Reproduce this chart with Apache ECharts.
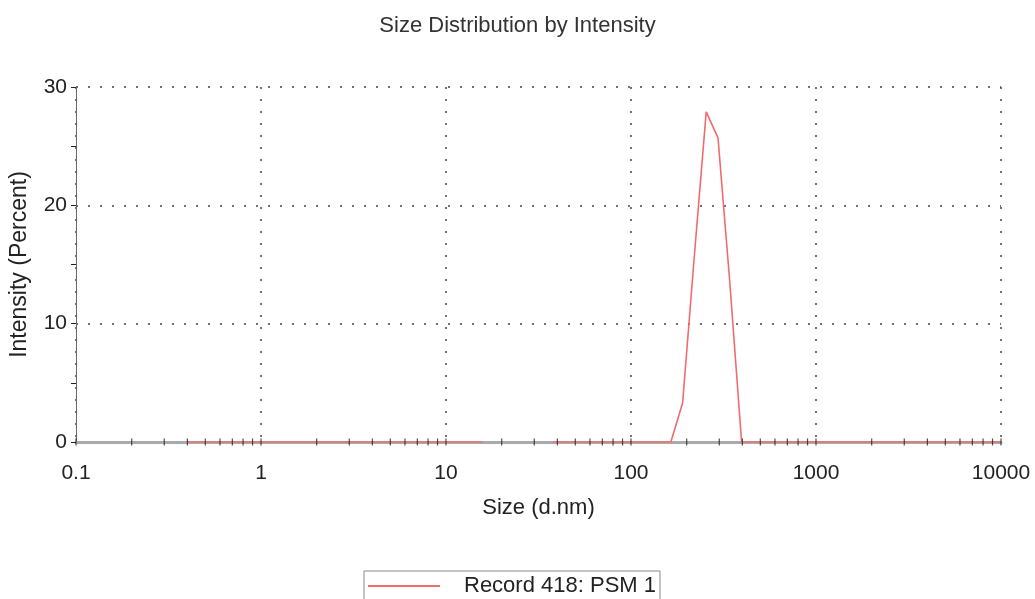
<!DOCTYPE html>
<html>
<head>
<meta charset="utf-8">
<title>Size Distribution by Intensity</title>
<script src="https://cdn.jsdelivr.net/npm/echarts@6/dist/echarts.min.js"></script>
<style>
  html, body { margin: 0; padding: 0; background: #fff; }
  #chart { width: 1035px; height: 599px; }
</style>
</head>
<body>
<div id="chart"></div>
<script>
  // size bins (d.nm)
  var sizes = [0.4000, 0.4632, 0.5365, 0.6213, 0.7195, 0.8332, 0.9649, 1.117, 1.294, 1.499,
    1.736, 2.010, 2.328, 2.696, 3.122, 3.615, 4.187, 4.849, 5.615, 6.503,
    7.531, 8.721, 10.10, 11.70, 13.54, 15.69, 18.17, 21.04, 24.36, 28.21,
    32.67, 37.84, 43.82, 50.75, 58.77, 68.06, 78.82, 91.28, 105.7, 122.4,
    141.8, 164.2, 190.1, 220.2, 255.0, 295.3, 342.0, 396.1, 458.7, 531.2,
    615.1, 712.4, 825.0, 955.4, 1106, 1281, 1484, 1718, 1990, 2305,
    2669, 3091, 3580, 4145, 4801, 5560, 6439, 7456, 8635, 10000];
  // intensity (%) per bin, null = not drawn
  var intensity = [0, 0, 0, 0, 0, 0, 0, 0, 0, 0,
    0, 0, 0, 0, 0, 0, 0, 0, 0, 0,
    0, 0, 0, 0, 0, 0, null, null, null, null,
    null, 0, 0, 0, 0, 0, 0, 0, 0, 0,
    0, 0, 3.3, 15.8, 27.9, 25.7, 13.5, 0, 0, 0,
    0, 0, 0, 0, 0, 0, 0, 0, 0, 0,
    0, 0, 0, 0, 0, 0, 0, 0, 0, 0];
  // x-axis tick positions (log decades with 2..9 subdivisions)
  var xTicks = [0.1, 0.2, 0.3, 0.4, 0.5, 0.6, 0.7, 0.8, 0.9,
    1, 2, 3, 4, 5, 6, 7, 8, 9,
    10, 20, 30, 40, 50, 60, 70, 80, 90,
    100, 200, 300, 400, 500, 600, 700, 800, 900,
    1000, 2000, 3000, 4000, 5000, 6000, 7000, 8000, 9000, 10000];
  var seriesName = 'Record 418: PSM 1';

  var font = '"Liberation Sans", Arial, sans-serif';
  var lineData = sizes.map(function (s, i) {
    return [s, intensity[i] === null ? '-' : intensity[i]];
  });
  var tickData = xTicks.map(function (t) { return [t, 0]; });

  var chart = echarts.init(document.getElementById('chart'));
  chart.setOption({
    animation: false,
    title: {
      text: 'Size Distribution by Intensity',
      left: 'center',
      top: 10,
      textStyle: { fontFamily: font, fontSize: 22, fontWeight: 'normal', color: '#333' }
    },
    legend: {
      data: [seriesName],
      left: 364,
      top: 571,
      padding: [4, 4, 20, 4],
      borderColor: '#888',
      borderWidth: 1,
      icon: 'rect',
      itemWidth: 72,
      itemHeight: 2,
      textStyle: { fontFamily: font, fontSize: 22, color: '#222', padding: [0, 0, 0, 19] }
    },
    grid: { left: 76, right: 34, top: 87, bottom: 157 },
    xAxis: {
      type: 'log',
      logBase: 10,
      min: 0.1,
      max: 10000,
      interval: 1,
      name: 'Size (d.nm)',
      nameLocation: 'middle',
      nameGap: 55,
      nameTextStyle: { fontFamily: font, fontSize: 22, color: '#222' },
      axisLine: { lineStyle: { color: '#aaa', width: 3 } },
      axisTick: { show: false },
      axisLabel: {
        fontFamily: font, fontSize: 21, color: '#222', margin: 21,
        formatter: function (v) { return String(v); }
      },
      splitLine: { show: true, lineStyle: { color: '#444', width: 1.5, type: [2, 10] } }
    },
    yAxis: {
      type: 'value',
      min: 0,
      max: 30,
      interval: 10,
      name: 'Intensity (Percent)',
      nameLocation: 'middle',
      nameGap: 45,
      nameTextStyle: { fontFamily: font, fontSize: 23, color: '#222' },
      axisLine: { show: true, lineStyle: { color: '#666', width: 1 } },
      axisTick: { show: true, length: 5, lineStyle: { color: '#222' } },
      minorTick: { show: true, splitNumber: 2, length: 5, lineStyle: { color: '#222' } },
      axisLabel: { fontFamily: font, fontSize: 21, color: '#222', margin: 9 },
      splitLine: { show: true, lineStyle: { color: '#444', width: 1.5, type: [2, 10] } }
    },
    series: [
      {
        name: 'ticks',
        type: 'scatter',
        data: tickData,
        symbol: 'rect',
        symbolSize: [1.2, 7],
        itemStyle: { color: '#222' },
        silent: true,
        clip: false,
        z: 3
      },
      {
        name: seriesName,
        type: 'line',
        data: lineData,
        showSymbol: false,
        connectNulls: false,
        lineStyle: { color: '#f26b6b', width: 1.6 },
        itemStyle: { color: '#f26b6b' },
        z: 2
      }
    ]
  });
</script>
</body>
</html>
